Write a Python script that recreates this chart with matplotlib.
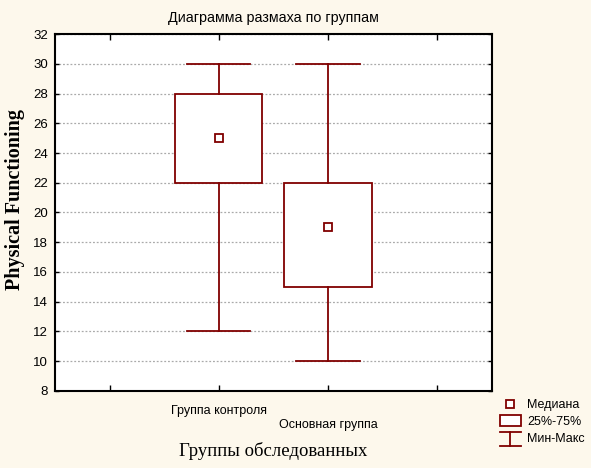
import numpy as np
import matplotlib
matplotlib.use("Agg")
import matplotlib.pyplot as plt
from matplotlib.lines import Line2D
from matplotlib.patches import Rectangle
from matplotlib.legend_handler import HandlerBase

# data
groups = ["Группа контроля", "Основная группа"]
mins = [12, 10]
q1s = [22, 15]
medians = [25, 19]
q3s = [28, 22]
maxs = [30, 30]

RED = "#800000"
BG = "#fdf8ec"


class WhiskerHandler(HandlerBase):
    def create_artists(self, legend, orig, xd, yd, width, height, fontsize, trans):
        top = Line2D([xd, xd + width], [yd + height * 1.2] * 2, color=RED, lw=1.3)
        bot = Line2D([xd, xd + width], [yd - height * 0.4] * 2, color=RED, lw=1.3)
        mid = Line2D([xd + width / 2] * 2, [yd - height * 0.4, yd + height * 1.2], color=RED, lw=1.3)
        for a in (top, bot, mid):
            a.set_transform(trans)
        return [top, bot, mid]


class BoxHandler(HandlerBase):
    def create_artists(self, legend, orig, xd, yd, width, height, fontsize, trans):
        r = Rectangle((xd, yd - height * 0.1), width, height * 1.2,
                      facecolor="white", edgecolor=RED, lw=1.3, transform=trans)
        return [r]


fig = plt.figure(figsize=(5.91, 4.68), dpi=100, facecolor=BG)
ax = fig.add_axes([0.093, 0.165, 0.739, 0.762])

pos = np.arange(len(groups)) + 2
stats = []
for i in range(len(groups)):
    stats.append(dict(med=medians[i], q1=q1s[i], q3=q3s[i],
                      whislo=mins[i], whishi=maxs[i], fliers=[]))

ax.bxp(stats, positions=pos, widths=0.8, capwidths=0.58, patch_artist=True,
       showfliers=False,
       boxprops=dict(facecolor="white", edgecolor=RED, lw=1.3),
       whiskerprops=dict(color=RED, lw=1.3),
       capprops=dict(color=RED, lw=1.3),
       medianprops=dict(visible=False),
       zorder=3)
ax.plot(pos, medians, "s", ms=5.5, mfc="white", mec=RED, mew=1.3, zorder=4)

ax.set_xlim(0.5, 4.5)
ax.set_ylim(8, 32)
ax.set_yticks(np.arange(8, 33, 2))
ax.set_xticks([1, 2, 3, 4])
ax.set_xticklabels(["", groups[0], groups[1], ""], fontsize=9,
                   family="Liberation Sans")
for lab in ax.get_yticklabels():
    lab.set_fontsize(9.5)
    lab.set_family("Liberation Sans")

ax.tick_params(axis="x", direction="in", top=True, length=4, width=1, pad=10)
ax.tick_params(axis="y", direction="in", right=True, length=3, width=1, pad=5)
# stagger the second group label like the original
ax.xaxis.get_major_ticks()[2].set_pad(20)
ax.yaxis.grid(True, linestyle=(0, (1.5, 1.5)), color="#aaaaaa", lw=0.9)
ax.set_axisbelow(True)
for s in ax.spines.values():
    s.set_linewidth(1.5)

ax.set_title("Диаграмма размаха по группам", fontsize=10.3,
             family="Liberation Sans", pad=9)
ax.set_ylabel("Physical Functioning", fontsize=14.5, family="Liberation Serif",
              weight="bold")
ax.yaxis.set_label_coords(-0.068, 0.535)
ax.set_xlabel("Группы обследованных", fontsize=13.5, family="Liberation Serif")
ax.xaxis.set_label_coords(0.5, -0.145)

h_med = Line2D([], [], ls="none", marker="s", ms=5.5, mfc="white", mec=RED, mew=1.3)
h_box = Rectangle((0, 0), 1, 1)
h_whisk = Line2D([], [])
fig.legend([h_med, h_box, h_whisk], ["Медиана", "25%-75%", "Мин-Макс"],
           handler_map={h_box: BoxHandler(), h_whisk: WhiskerHandler()},
           loc="upper left", bbox_to_anchor=(0.837, 0.158),
           frameon=False, prop=dict(family="Liberation Sans", size=9),
           handlelength=1.7, handletextpad=0.5, labelspacing=0.4,
           borderaxespad=0)

fig.savefig("out.png", dpi=100, facecolor=BG)
